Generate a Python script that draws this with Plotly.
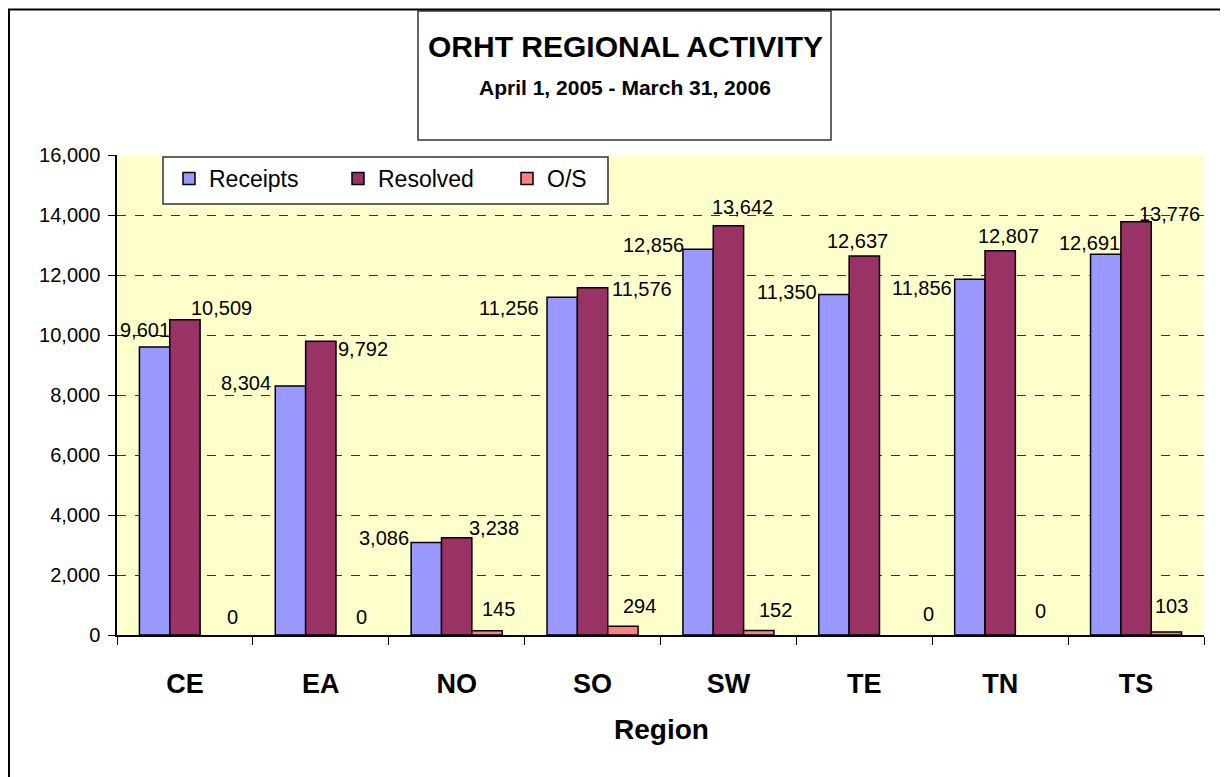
import plotly.graph_objects as go

regions = ["CE", "EA", "NO", "SO", "SW", "TE", "TN", "TS"]
receipts = [9601, 8304, 3086, 11256, 12856, 11350, 11856, 12691]
resolved = [10509, 9792, 3238, 11576, 13642, 12637, 12807, 13776]
outstanding = [0, 0, 145, 294, 152, 0, 0, 103]

series_names = ["Receipts", "Resolved", "O/S"]
series_colors = ["#9999FF", "#993366", "#FF8080"]

# label placement offsets in pixels (dx right, dy down) relative to bar centre / bar top
label_offsets = {
    "Receipts": [(-10, -17), (-44, -3), (-42, -4), (-53, 11), (-45, -4), (-47, -3), (-48, 9), (-16, -11)],
    "Resolved": [(37, -12), (42, 8), (37, -10), (49, 1), (14, -19), (-7, -15), (8, -15), (33, -8)],
    "O/S": [(17, -18), (10, -18), (11, -22), (17, -20), (17, -20), (34, -21), (10, -24), (5, -26)],
}

FONT = "Arial, 'Liberation Sans', sans-serif"
OFF = 8  # page body margin
W, H = 1228 - OFF, 777 - OFF
PL, PR, PT, PB = 117, 1204, 155, 635  # plot area in screenshot pixels
ML, MT = PL - OFF, PT - OFF
MR, MB = W - (PR - OFF), H - (PB - OFF)
PW = PR - PL
PH = PB - PT

def px(x):
    return (x - PL) / PW

def py(y):
    return (PB - y) / PH

fig = go.Figure()
all_values = [receipts, resolved, outstanding]
for name, vals, col in zip(series_names, all_values, series_colors):
    # zero-height bars are not drawn (no outline line at the baseline)
    fig.add_trace(go.Bar(
        x=regions, y=[v if v > 0 else None for v in vals], name=name,
        marker=dict(color=col, line=dict(color="black", width=1.5)),
    ))

bargap = 0.33
bar_w_px = (1 - bargap) / 3 * PW / len(regions)
annotations = []
for si, (name, vals) in enumerate(zip(series_names, all_values)):
    for ci, (reg, v) in enumerate(zip(regions, vals)):
        dx, dy = label_offsets[name][ci]
        annotations.append(dict(
            x=reg, y=v, xref="x", yref="y", text=f"{v:,}", showarrow=False,
            xanchor="center", yanchor="middle",
            xshift=(si - 1) * bar_w_px + dx, yshift=-dy,
            font=dict(family=FONT, size=20, color="black"),
        ))

annotations.append(dict(
    x=px(625), y=py(46), xref="paper", yref="paper", text="<b>ORHT REGIONAL ACTIVITY</b>",
    showarrow=False, xanchor="center", yanchor="middle",
    font=dict(family=FONT, size=30, color="black"),
))
annotations.append(dict(
    x=px(625), y=py(88), xref="paper", yref="paper", text="<b>April 1, 2005 - March 31, 2006</b>",
    showarrow=False, xanchor="center", yanchor="middle",
    font=dict(family=FONT, size=21, color="black"),
))
annotations.append(dict(
    x=px(661), y=py(729), xref="paper", yref="paper", text="<b>Region</b>",
    showarrow=False, xanchor="center", yanchor="middle",
    font=dict(family=FONT, size=28, color="black"),
))

shapes = [
    dict(type="rect", xref="paper", yref="paper",
         x0=px(418), x1=px(831), y0=py(140), y1=py(11),
         line=dict(color="#333333", width=1.5), fillcolor="white", layer="below"),
    dict(type="rect", xref="paper", yref="paper",
         x0=px(9), x1=px(1260), y0=py(800), y1=py(9.5),
         line=dict(color="black", width=2), fillcolor="rgba(0,0,0,0)"),
    # legend frame
    dict(type="rect", xref="paper", yref="paper",
         x0=px(163), x1=px(608), y0=py(204), y1=py(157),
         line=dict(color="#333333", width=1.5), fillcolor="white", layer="below"),
]

fig.update_layout(
    width=W, height=H,
    margin=dict(l=ML, r=MR, t=MT, b=MB, autoexpand=False),
    paper_bgcolor="white", plot_bgcolor="#FFFFCC",
    barmode="group", bargap=bargap, bargroupgap=0,
    font=dict(family=FONT, color="black"),
    showlegend=True,
    legend=dict(
        orientation="h", x=px(169), y=py(157), xanchor="left", yanchor="top",
        bgcolor="rgba(0,0,0,0)", borderwidth=0,
        font=dict(family=FONT, size=23, color="black"),
        entrywidth=124, entrywidthmode="pixels",
        itemclick=False,
    ),
    annotations=annotations,
    shapes=shapes,
)

fig.update_yaxes(
    range=[0, 16000], dtick=2000, tickformat=",",
    showline=True, linecolor="black", linewidth=1.5,
    ticks="outside", ticklen=7, tickcolor="black",
    showgrid=True, gridcolor="#333333", griddash="dash", gridwidth=1,
    zeroline=False,
    tickfont=dict(family=FONT, size=20, color="black"),
    ticklabelstandoff=4,
)
fig.update_xaxes(
    showline=True, linecolor="black", linewidth=1.5,
    ticks="outside", ticklen=8, tickcolor="black", tickson="boundaries",
    tickfont=dict(family=FONT, size=27, color="black"),
    tickprefix="<b>", ticksuffix="</b>",
    ticklabelstandoff=24,
)

fig.write_html("out.html")
